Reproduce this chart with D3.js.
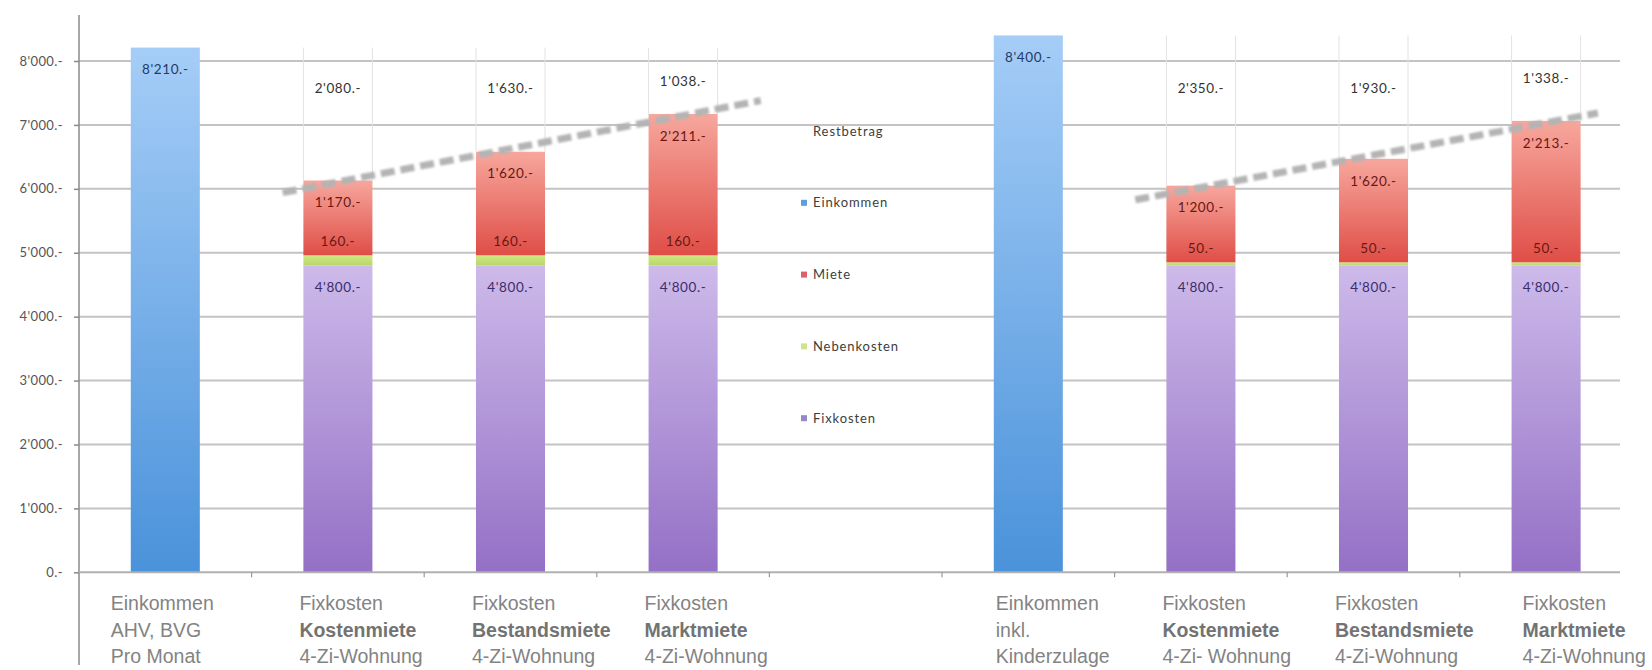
<!DOCTYPE html>
<html>
<head>
<meta charset="utf-8">
<script src="https://cdn.jsdelivr.net/npm/d3@7"></script>
<style>
  body { margin: 0; background: #fff; }
  svg { display: block; }
</style>
</head>
<body>
<svg id="chart" width="1652" height="670"></svg>
<script>
// ---- data ----------------------------------------------------------
const categories = ["ein1", "kost1", "best1", "markt1", "leer", "ein2", "kost2", "best2", "markt2"];
const labelLine1 = ["Einkommen", "Fixkosten", "Fixkosten", "Fixkosten", "", "Einkommen", "Fixkosten", "Fixkosten", "Fixkosten"];
const labelLine2 = ["AHV, BVG", "Kostenmiete", "Bestandsmiete", "Marktmiete", "", "inkl.", "Kostenmiete", "Bestandsmiete", "Marktmiete"];
const labelLine3 = ["Pro Monat", "4-Zi-Wohnung", "4-Zi-Wohnung", "4-Zi-Wohnung", "", "Kinderzulage", "4-Zi- Wohnung", "4-Zi-Wohnung", "4-Zi-Wohnung"];

const einkommen   = [8210, 0, 0, 0, 0, 8400, 0, 0, 0];
const fixkosten   = [0, 4800, 4800, 4800, 0, 0, 4800, 4800, 4800];
const nebenkosten = [0, 160, 160, 160, 0, 0, 50, 50, 50];
const miete       = [0, 1170, 1620, 2211, 0, 0, 1200, 1620, 2213];
const restbetrag  = [0, 2080, 1630, 1038, 0, 0, 2350, 1930, 1338];

const yTicks = [0, 1000, 2000, 3000, 4000, 5000, 6000, 7000, 8000];
const seriesKeys = ["Einkommen", "Fixkosten", "Nebenkosten", "Miete", "Restbetrag"];
const legendOrder = ["Restbetrag", "Einkommen", "Miete", "Nebenkosten", "Fixkosten"];
const trendGroups = [["kost1", "best1", "markt1"], ["kost2", "best2", "markt2"]];

// ---- layout ----------------------------------------------------------
const W = 1652, H = 670;
const axisX = 79, plotRight = 1620, bandEnd = 1632.4;
const restLabelLevel = 7580;
const trendExtend = [[0.32, 0.45], [0.38, 0.3]];
const catLabelNudge = [-16, 0, 0, 0, 0, 6, 0, 0, 15];

const svg = d3.select("#chart");
svg.append("rect").attr("width", W).attr("height", H).attr("fill", "#fff");

const x = d3.scaleBand().domain(categories).range([axisX, bandEnd])
  .paddingInner(0.6).paddingOuter(0.3);
const y = d3.scaleLinear().domain([0, 8000]).range([572.3, 61]);

const ch = d3.formatLocale({ decimal: ".", thousands: "'", grouping: [3], currency: ["", ""] });
const fmt = v => ch.format(",d")(v) + ".-";

// rows for the stack
const rows = categories.map((c, i) => ({
  cat: c,
  Einkommen: einkommen[i], Fixkosten: fixkosten[i], Nebenkosten: nebenkosten[i],
  Miete: miete[i], Restbetrag: restbetrag[i]
}));
const stacked = d3.stack().keys(seriesKeys)(rows);

// gradients per series
const defs = svg.append("defs");
const grads = {
  Einkommen:   ["#a5cdf7", "#4a92da"],
  Fixkosten:   ["#cdbaea", "#9470c6"],
  Nebenkosten: ["#d2e684", "#b6d86a"],
  Miete:       ["#f7a79d", "#df4e47"]
};
Object.entries(grads).forEach(([k, [c0, c1]]) => {
  const g = defs.append("linearGradient").attr("id", "g-" + k)
    .attr("x1", 0).attr("y1", 0).attr("x2", 0).attr("y2", 1);
  g.append("stop").attr("offset", "0%").attr("stop-color", c0);
  g.append("stop").attr("offset", "100%").attr("stop-color", c1);
});
defs.append("filter").attr("id", "soft").attr("x", "-5%").attr("y", "-50%")
  .attr("width", "110%").attr("height", "200%")
  .append("feGaussianBlur").attr("stdDeviation", 1);

// ---- grid ----------------------------------------------------------
svg.append("g").selectAll("line").data(yTicks.filter(d => d > 0)).join("line")
  .attr("x1", axisX).attr("x2", plotRight)
  .attr("y1", d => y(d)).attr("y2", d => y(d))
  .attr("stroke", "#c3c3c3").attr("stroke-width", 2);

// ---- bars ----------------------------------------------------------
const bw = x.bandwidth();
stacked.forEach(layer => {
  const key = layer.key;
  const g = svg.append("g");
  const segs = layer.filter(d => d[1] - d[0] > 0);
  if (key === "Restbetrag") {
    segs.forEach(d => {
      [x(d.data.cat), x(d.data.cat) + bw].forEach(xx => {
        g.append("line").attr("x1", xx).attr("x2", xx)
          .attr("y1", y(d[1])).attr("y2", y(d[0]))
          .attr("stroke", "#e2e2e2").attr("stroke-width", 1);
      });
    });
  } else {
    g.selectAll("rect").data(segs).join("rect")
      .attr("x", d => x(d.data.cat)).attr("width", bw)
      .attr("y", d => y(d[1])).attr("height", d => y(d[0]) - y(d[1]))
      .attr("fill", `url(#g-${key})`);
  }
});

// ---- axes ----------------------------------------------------------
// vertical axis line
svg.append("line").attr("x1", axisX).attr("x2", axisX).attr("y1", 15).attr("y2", 665)
  .attr("stroke", "#8a8a8a").attr("stroke-width", 1.5);
// baseline
svg.append("line").attr("x1", axisX).attr("x2", plotRight).attr("y1", y(0)).attr("y2", y(0))
  .attr("stroke", "#b0b0b0").attr("stroke-width", 2);

const yAxis = svg.append("g").attr("transform", `translate(${axisX},0)`)
  .call(d3.axisLeft(y).tickValues(yTicks).tickFormat(fmt).tickSize(5).tickPadding(11));
yAxis.select(".domain").remove();
yAxis.selectAll(".tick line").attr("stroke", "#8a8a8a").attr("stroke-width", 1.5);
yAxis.selectAll(".tick text").attr("fill", "#555").style("font-family", "Lato, sans-serif")
  .style("font-size", "13px").style("letter-spacing", "0.4px");

// category boundary ticks
const step = x.step();
svg.append("g").selectAll("line").data(categories.slice(0, -1)).join("line")
  .attr("x1", c => x(c) + bw + (step - bw) / 2).attr("x2", c => x(c) + bw + (step - bw) / 2)
  .attr("y1", y(0)).attr("y2", y(0) + 5)
  .attr("stroke", "#9a9a9a").attr("stroke-width", 1.2);

// category labels
const catG = svg.append("g").style("font-family", "'Liberation Sans', Arial, sans-serif")
  .style("font-size", "19.5px");
categories.forEach((c, i) => {
  if (!labelLine1[i]) return;
  const lx = x(c) - 4 + catLabelNudge[i];
  const bold = labelLine1[i] === "Fixkosten";
  [labelLine1[i], labelLine2[i], labelLine3[i]].forEach((t, j) => {
    catG.append("text").attr("x", lx).attr("y", 610 + j * 26.7)
      .attr("fill", (bold && j === 1) ? "#737373" : "#838383")
      .attr("font-weight", (bold && j === 1) ? "bold" : "normal")
      .text(t);
  });
});

// ---- value labels ----------------------------------------------------
const lblG = svg.append("g").style("font-family", "Lato, sans-serif")
  .style("font-size", "13.5px").style("letter-spacing", "0.6px").attr("text-anchor", "middle");
const lblColor = { Einkommen: "#1f3b66", Fixkosten: "#3b2d6a", Nebenkosten: "#6a1812", Miete: "#6a1812", Restbetrag: "#333" };
stacked.forEach(layer => {
  const key = layer.key;
  layer.filter(d => d[1] - d[0] > 0).forEach(d => {
    let ly;
    if (key === "Nebenkosten") ly = y(d[1]) - 14;
    else if (key === "Restbetrag") ly = Math.min(y(restLabelLevel), (y(d[0]) + y(d[1])) / 2);
    else ly = y(d[1]) + 22;
    lblG.append("text").attr("x", x(d.data.cat) + bw / 2).attr("y", ly).attr("dy", "0.35em")
      .attr("fill", lblColor[key]).text(fmt(d[1] - d[0]));
  });
});

// ---- trend lines over the rent tops ------------------------------------
const mieteLayer = stacked.find(l => l.key === "Miete");
const trendG = svg.append("g").attr("filter", "url(#soft)");
trendGroups.forEach((grp, gi) => {
  const pts = grp.map((c, k) => [k, mieteLayer[categories.indexOf(c)][1]]);
  const mx = d3.mean(pts, p => p[0]), my = d3.mean(pts, p => p[1]);
  const slope = d3.sum(pts, p => (p[0] - mx) * (p[1] - my)) / d3.sum(pts, p => (p[0] - mx) ** 2);
  const at = k => my + slope * (k - mx);
  const x0 = x(grp[0]) + bw / 2;
  const k0 = -trendExtend[gi][0], k1 = 2 + trendExtend[gi][1];
  trendG.append("line")
    .attr("x1", x0 + k0 * step).attr("y1", y(at(k0)))
    .attr("x2", x0 + k1 * step).attr("y2", y(at(k1)))
    .attr("stroke", "#b4b4b4").attr("stroke-width", 7)
    .attr("stroke-dasharray", "14 6");
});

// ---- legend ----------------------------------------------------------
const legColor = { Einkommen: "#5b9de0", Miete: "#e0606a", Nebenkosten: "#cfe38a", Fixkosten: "#9487c8" };
const legG = svg.append("g").style("font-family", "Lato, sans-serif").style("font-size", "13px")
  .style("letter-spacing", "0.9px");
legendOrder.forEach((k, i) => {
  const ly = 131 + i * 71.8;
  if (legColor[k]) {
    legG.append("rect").attr("x", 801).attr("y", ly - 3).attr("width", 6).attr("height", 6)
      .attr("fill", legColor[k]);
  }
  legG.append("text").attr("x", 813).attr("y", ly).attr("dy", "0.35em")
    .attr("fill", "#3d3d3d").text(k);
});
</script>
</body>
</html>
